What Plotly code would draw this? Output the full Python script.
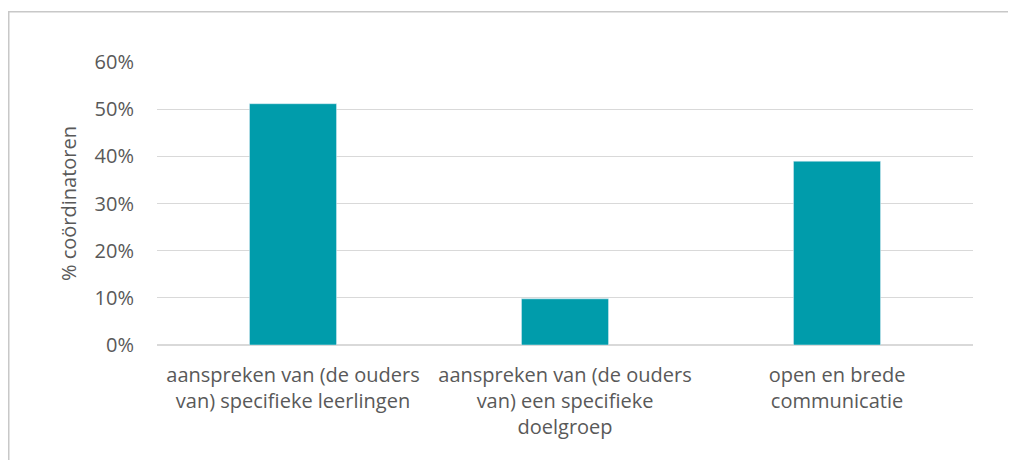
import plotly.graph_objects as go

categories = [
    "aanspreken van (de ouders<br>van) specifieke leerlingen",
    "aanspreken van (de ouders<br>van) een specifieke<br>doelgroep",
    "open en brede<br>communicatie",
]
values = [0.512, 0.098, 0.390]
y_ticks = [0, 0.1, 0.2, 0.3, 0.4, 0.5, 0.6]
y_title = "% coördinatoren"

FONT = "Open Sans"
GRAY = "#595959"
FS = 20

fig = go.Figure(go.Bar(
    x=categories, y=values, marker_color="#009CAB", width=0.32,
    hoverinfo="skip",
))

# page has an 8px body margin; figure coordinates are page - 8
W, H = 1000, 452
L, R, T, B = 149, 35, 54, 115
pw, ph = W - L - R, H - T - B

def px_to_paper_x(px):
    return (px - L) / pw

def px_to_paper_y(py):
    return (H - B - py) / ph

fig.update_layout(
    width=W, height=H,
    margin=dict(l=L, r=R, t=T, b=B, pad=0),
    paper_bgcolor="white", plot_bgcolor="white",
    font=dict(family=FONT, color=GRAY, size=FS),
    showlegend=False,
    shapes=[dict(
        type="rect", xref="paper", yref="paper",
        x0=px_to_paper_x(0.75), x1=px_to_paper_x(1060),
        y0=px_to_paper_y(520), y1=px_to_paper_y(3.75),
        line=dict(color="#C8C8C8", width=1.5), fillcolor="rgba(0,0,0,0)",
        layer="below",
    )],
)
fig.update_yaxes(
    range=[0, 0.6005], tickvals=y_ticks, tickformat=".0%",
    showgrid=True, gridcolor="#D9D9D9", gridwidth=1,
    zeroline=True, zerolinecolor="#D9D9D9", zerolinewidth=1.5,
    showline=False, ticks="", ticklabelstandoff=22,
    tickfont=dict(size=FS, color=GRAY),
    title=dict(text=y_title, font=dict(size=FS, color=GRAY), standoff=12),
)
fig.update_xaxes(
    showgrid=False, showline=False, ticks="", ticklabelstandoff=16,
    tickfont=dict(size=FS, color=GRAY),
)

fig.write_html("out.html")
